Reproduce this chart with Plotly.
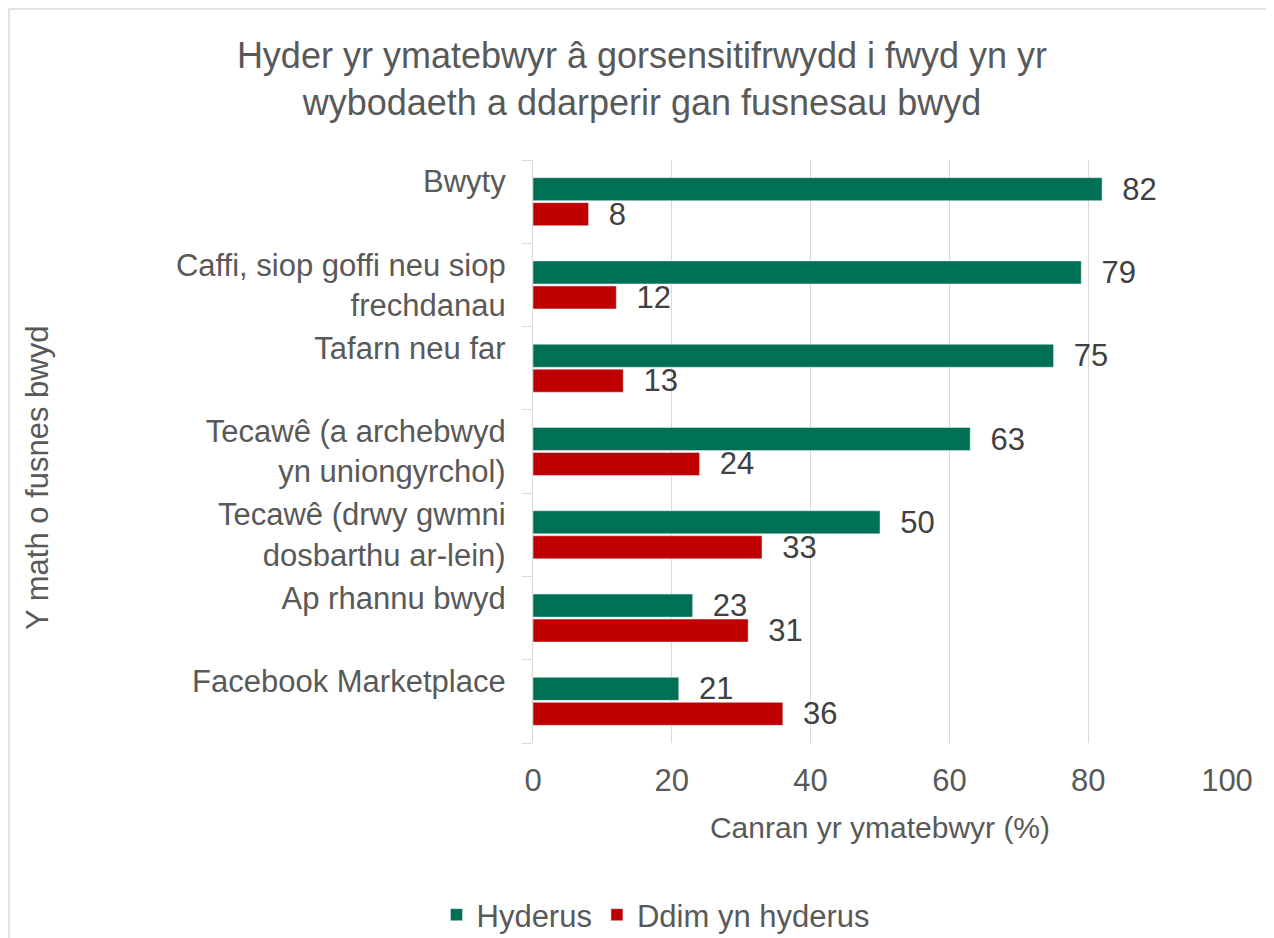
import plotly.graph_objects as go

categories = [
    "Bwyty",
    "Caffi, siop goffi neu siop<br>frechdanau",
    "Tafarn neu far",
    "Tecawê (a archebwyd<br>yn uniongyrchol)",
    "Tecawê (drwy gwmni<br>dosbarthu ar-lein)",
    "Ap rhannu bwyd",
    "Facebook Marketplace",
]
hyderus = [82, 79, 75, 63, 50, 23, 21]
ddim_hyderus = [8, 12, 13, 24, 33, 31, 36]
x_ticks = [0, 20, 40, 60, 80, 100]

GREEN = "#007054"
RED = "#C00000"
TXT = "#595959"
FONT = "Liberation Sans, Arial, sans-serif"
FS = 31

# Excel-style: single-line category labels sit at the first-line position
ticktext = [c if "<br>" in c else c + "<br> " for c in categories]

fig = go.Figure()
for name, vals, col in [("Hyderus", hyderus, GREEN), ("Ddim yn hyderus", ddim_hyderus, RED)]:
    fig.add_trace(go.Bar(
        y=categories, x=vals, orientation="h", name=name,
        marker=dict(color=col), text=vals, texttemplate="  %{x}",
        textposition="outside", constraintext="none",
        textfont=dict(size=FS, color="#404040", family=FONT),
        outsidetextfont=dict(size=FS, color="#404040", family=FONT),
        cliponaxis=False,
    ))

# page has an 8px body margin; figure origin is at screen (8, 8)
W, H = 1266, 930
L, T = 525, 152
R = W - 1219
B = H - 735
pw, ph = W - L - R, H - T - B

fig.update_layout(
    width=W, height=H,
    margin=dict(l=L, r=R, t=T, b=B),
    paper_bgcolor="white", plot_bgcolor="white",
    font=dict(family=FONT, color=TXT, size=FS),
    barmode="group", bargap=0.40, bargroupgap=0.08,
    title=dict(
        text="Hyder yr ymatebwyr â gorsensitifrwydd i fwyd yn yr<br>wybodaeth a ddarperir gan fusnesau bwyd",
        x=634 / W, xanchor="center", y=1 - 60 / H, yanchor="middle",
        font=dict(size=36, color=TXT, family=FONT),
    ),
    xaxis=dict(
        range=[0, 100], tickvals=x_ticks, showgrid=True, gridcolor="#d9d9d9", gridwidth=1.3,
        zeroline=False, showline=False, ticks="", ticklabelstandoff=16,
        tickfont=dict(size=FS, color=TXT),
        title=dict(text="Canran yr ymatebwyr (%)", font=dict(size=30, color=TXT), standoff=19),
    ),
    yaxis=dict(
        autorange="reversed", type="category",
        tickvals=categories, ticktext=ticktext,
        showline=True, linecolor="#d9d9d9", linewidth=1.3,
        ticks="outside", tickson="boundaries", ticklen=10, tickcolor="#d9d9d9",
        ticklabelstandoff=20,
        tickfont=dict(size=FS, color=TXT),
        showgrid=False,
    ),
    legend=dict(
        orientation="h", xref="container", x=648 / W, xanchor="center",
        yref="container", y=1 - 907 / H, yanchor="middle",
        font=dict(size=FS, color=TXT),
    ),
    showlegend=True,
)

fig.add_annotation(
    text="Y math o fusnes bwyd", textangle=-90, xref="paper", yref="paper",
    x=(29 - L) / pw, y=(T + ph - 470) / ph, showarrow=False,
    font=dict(size=FS, color=TXT), xanchor="center", yanchor="middle",
)

# chart border (light grey)
fig.add_shape(
    type="rect", xref="paper", yref="paper",
    x0=(1 - L) / pw, x1=(W + 20 - L) / pw,
    y0=(T + ph - (H + 20)) / ph, y1=(T + ph - 1) / ph,
    line=dict(color="#d9d9d9", width=1.5), fillcolor="rgba(0,0,0,0)", layer="below",
)

fig.write_html("out.html")
